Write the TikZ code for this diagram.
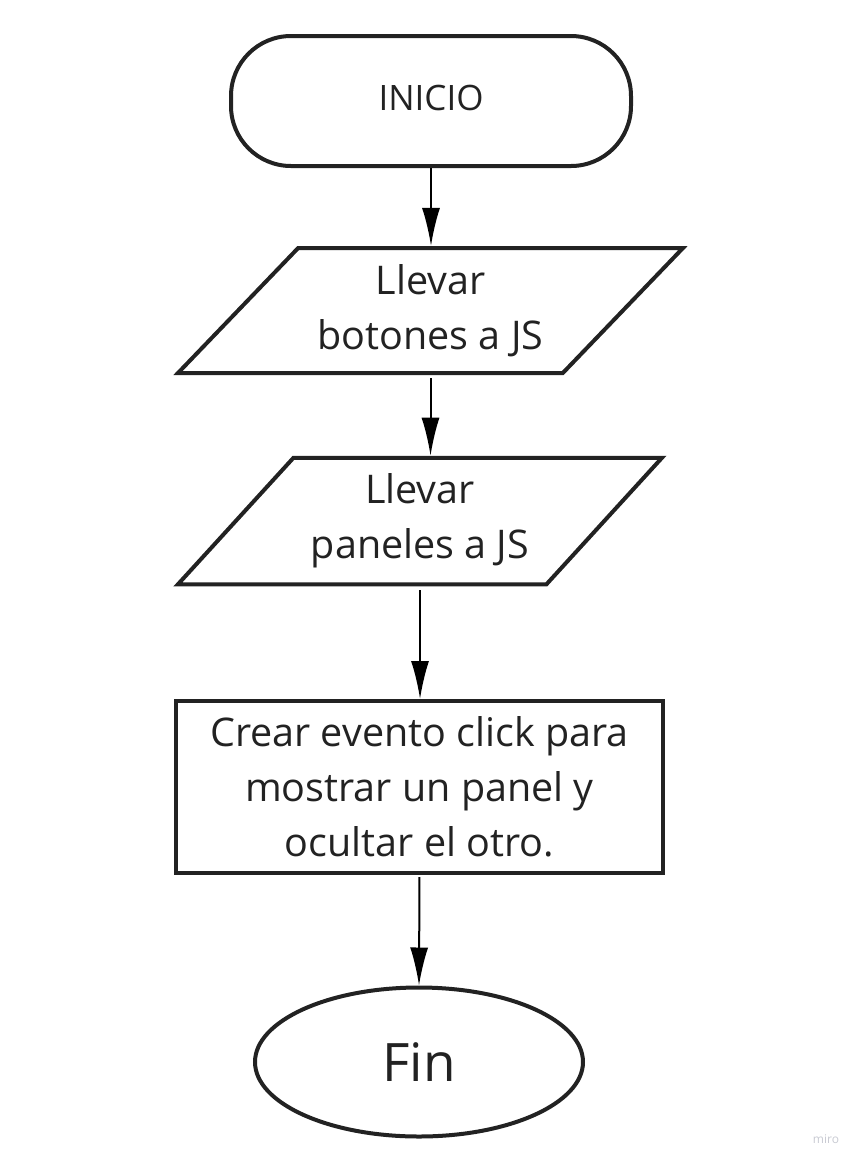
\documentclass[tikz,border=0pt]{standalone}
\usepackage{fontspec}
\setmainfont{Open Sans}
\usetikzlibrary{arrows.meta,shapes.geometric}
\definecolor{tinta}{HTML}{222222}
\definecolor{marca}{HTML}{C8CAD2}

\begin{document}
\begin{tikzpicture}[x=1pt,y=-1pt,->,>={Latex[length=38pt,width=18pt]},
    forma/.style={draw=tinta,line width=4pt,text=tinta,align=center,
      font=\fontsize{39.5}{55}\selectfont},
    terminal/.style={forma,rectangle,rounded corners=60pt,
      minimum width=400pt,minimum height=130pt,
      font=\fontsize{35}{40}\selectfont,text depth=7pt},
    datos/.style={forma,trapezium,trapezium stretches body,
      inner xsep=2pt,inner ysep=16pt},
    proceso/.style={forma,rectangle,inner sep=2pt},
    flecha/.style={line width=2pt,black}]
  \useasboundingbox (0,0) rectangle (859,1163);
  \node[terminal] (inicio) at (431,101) {INICIO};
  \node[datos,trapezium left angle=46,trapezium right angle=134,
    minimum width=505pt,minimum height=125pt] (botones) at (430.5,310.5)
    {Llevar\\botones a JS};
  \node[datos,trapezium left angle=47.6,trapezium right angle=132.4,
    minimum width=484pt,minimum height=126pt] (paneles) at (420,521)
    {Llevar\\paneles a JS};
  \node[proceso,minimum width=487pt,minimum height=172pt] (evento) at (419.5,787)
    {Crear evento click para\\mostrar un panel y\\ocultar el otro.};
  \node[forma,ellipse,inner sep=0pt,minimum width=328pt,minimum height=149pt,
    font=\fontsize{53}{60}\selectfont] (fin) at (419,1062) {Fin};
  \node[text=marca,font=\fontsize{12}{14}\selectfont] (miro) at (826,1139) {miro};

  \draw[flecha] (inicio.south) -- (inicio.south |- botones.north);
  \draw[flecha,shorten <=3pt] (botones.south) -- (botones.south |- paneles.north);
  \draw[flecha,shorten <=4pt] (paneles.south) -- (paneles.south |- evento.north);
  \draw[flecha,shorten <=2pt] (evento.south) -- (fin.north);
\end{tikzpicture}
\end{document}
